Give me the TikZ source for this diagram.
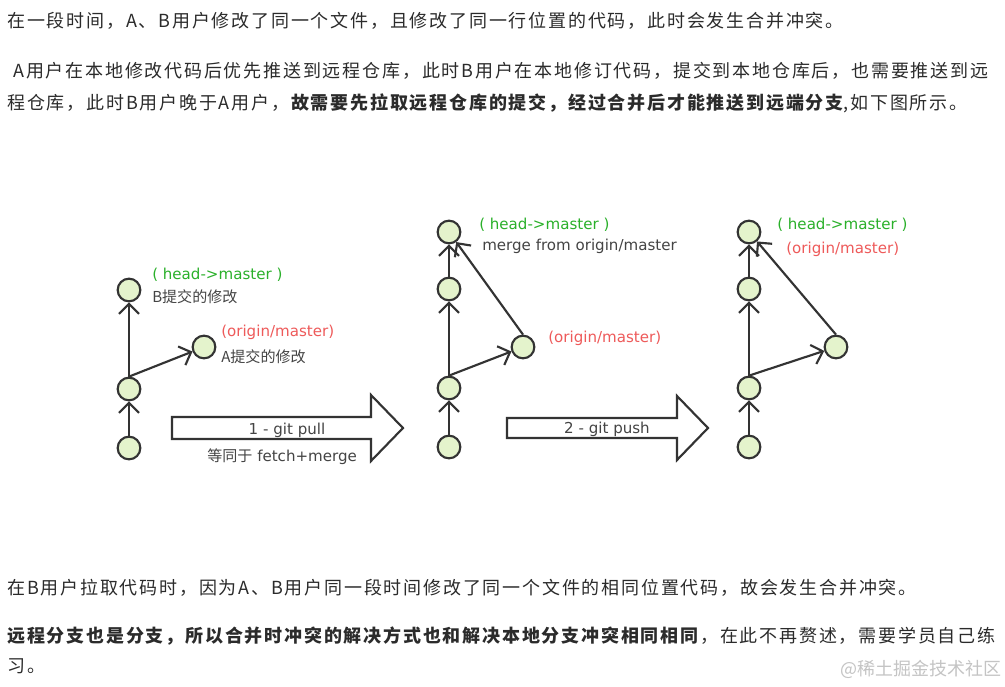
\documentclass[tikz,border=0pt]{standalone}
\usepackage{fontspec}
\setmainfont{DejaVu Sans}
\newfontfamily\cjk{Noto Sans CJK SC}[LetterSpace=10]
\newfontfamily\cjkd{Noto Sans CJK SC}
\usetikzlibrary{arrows.meta}
\definecolor{ctext}{HTML}{2B2B2B}
\definecolor{cgray}{HTML}{444444}
\definecolor{chead}{HTML}{2AB02A}
\definecolor{corigin}{HTML}{EE5A5A}
\definecolor{cfill}{HTML}{E4F3CC}
\definecolor{cline}{HTML}{333333}
\definecolor{cmark}{HTML}{C4C4C4}

\begin{document}
\begin{tikzpicture}[x=0.75pt,y=-0.75pt,
  para/.style={anchor=base west,inner sep=0pt,text=ctext,font=\cjk\fontsize{13.5pt}{16pt}\selectfont},
  lbl/.style={anchor=base west,inner sep=0pt,font=\fontsize{11.3pt}{13pt}\selectfont},
  commit/.style={circle,draw=cline,fill=cfill,line width=1.6pt,minimum size=17pt,inner sep=0pt},
  hist/.style={draw=cline,line width=1.6pt,-{Straight Barb[length=7.5pt,width=15pt]}},
  bigarrow/.style={draw=cline,line width=1.6pt,fill=white}]
\fill[white] (0,0) rectangle (1005,686);
\useasboundingbox (0,0) rectangle (1005,686);
% text above
\node[para] (l1) at (7,27) {在一段时间，A、B用户修改了同一个文件，且修改了同一行位置的代码，此时会发生合并冲突。};
\node[para] (l2) at (13,77) {A用户在本地修改代码后优先推送到远程仓库，此时B用户在本地修订代码，提交到本地仓库后，也需要推送到远};
\node[para] (l3) at (7,109) {程仓库，此时B用户晚于A用户，\textbf{故需要先拉取远程仓库的提交，经过合并后才能推送到远端分支},如下图所示。};
% before pull
\node[commit] (a1) at (129,448) {};
\node[commit] (a2) at (129,389) {};
\node[commit] (a3) at (129,290) {};
\node[commit] (a4) at (204,347) {};
\draw[hist] (a1) -- (a2);
\draw[hist] (a2.north) -- (a3);
\draw[hist] (a2.north) -- (a4);
\node[lbl,text=chead] (ahead) at (152,279) {( head->master )};
\node[lbl,text=cgray] (bmod) at (152,302) {\cjkd B提交的修改};
\node[lbl,text=corigin] (aorig) at (221,336) {(origin/master)};
\node[lbl,text=cgray] (amod) at (221,362) {\cjkd A提交的修改};
% 1 - git pull
\draw[bigarrow] (172,417) -- (371,417) -- (371,395) -- (403,428) -- (371,461) -- (371,439) -- (172,439) -- cycle;
\node[lbl,anchor=base,text=cgray] (pull) at (287,434) {1 - git pull};
\node[lbl,text=cgray] (pullnote) at (207,461) {{\cjkd 等同于} fetch+merge};
% after pull
\node[commit] (m1) at (449,447) {};
\node[commit] (m2) at (449,388) {};
\node[commit] (m3) at (449,289) {};
\node[commit] (m4) at (449,232) {};
\node[commit] (m5) at (523,347) {};
\draw[hist] (m1) -- (m2);
\draw[hist] (m2.north) -- (m3);
\draw[hist] (m3) -- (m4);
\draw[hist] (m2.north) -- (m5);
\draw[hist] (m5.north) -- (m4);
\node[lbl,text=chead] (mhead) at (479,229) {( head->master )};
\node[lbl,text=cgray] (mmerge) at (482,250) {merge from origin/master};
\node[lbl,text=corigin] (morig) at (548,342) {(origin/master)};
% 2 - git push
\draw[bigarrow] (507,418) -- (677,418) -- (677,396) -- (708,428) -- (677,460) -- (677,438) -- (507,438) -- cycle;
\node[lbl,anchor=base,text=cgray] (push) at (607,433) {2 - git push};
% after push
\node[commit] (u1) at (749,447) {};
\node[commit] (u2) at (749,388) {};
\node[commit] (u3) at (749,289) {};
\node[commit] (u4) at (749,232) {};
\node[commit] (u5) at (836,347) {};
\draw[hist] (u1) -- (u2);
\draw[hist] (u2.north) -- (u3);
\draw[hist] (u3) -- (u4);
\draw[hist] (u2.north) -- (u5);
\draw[hist] (u5.north) -- (u4);
\node[lbl,text=chead] (uhead) at (777,229) {( head->master )};
\node[lbl,text=corigin] (uorig) at (786,253) {(origin/master)};
% text below
\node[para] (l4) at (7,594) {在B用户拉取代码时，因为A、B用户同一段时间修改了同一个文件的相同位置代码，故会发生合并冲突。};
\node[para] (l5) at (7,642) {\textbf{远程分支也是分支，所以合并时冲突的解决方式也和解决本地分支冲突相同相同}，在此不再赘述，需要学员自己练};
\node[para] (l6) at (7,672) {习。};
\node[para,text=cmark,font=\cjkd\fontsize{13.5pt}{16pt}\selectfont] (mark) at (840,675) {@稀土掘金技术社区};
\end{tikzpicture}
\end{document}
